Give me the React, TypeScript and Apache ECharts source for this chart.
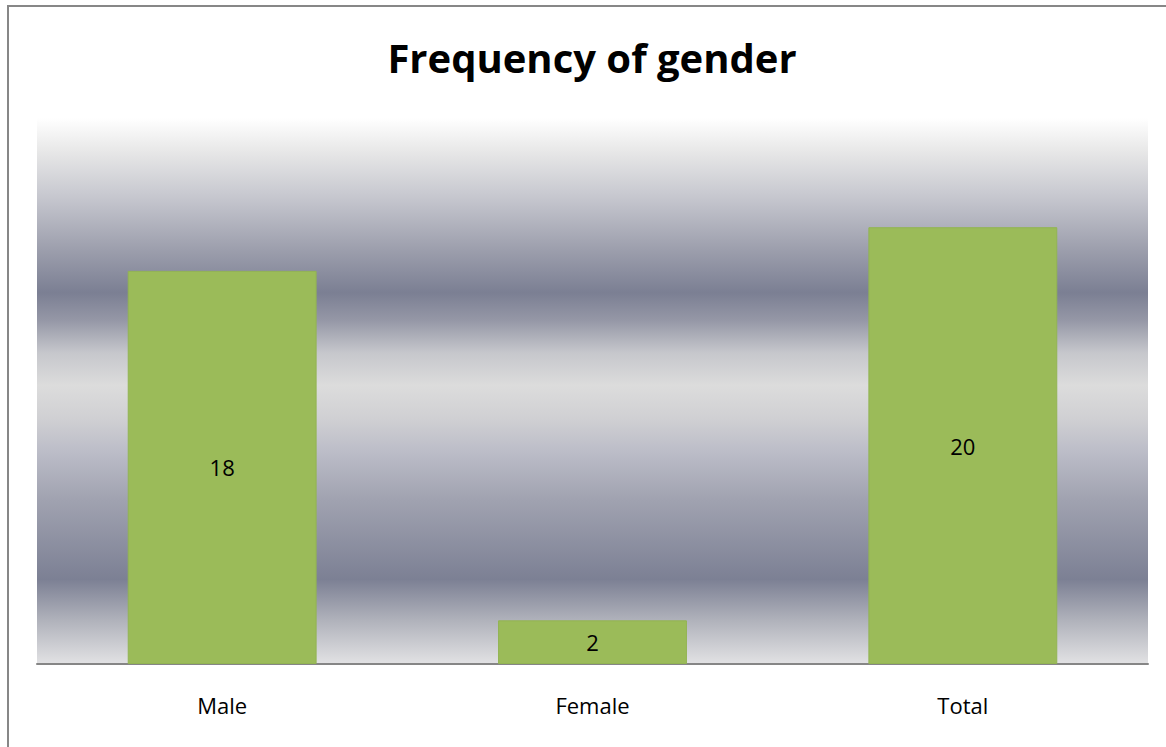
import React, { useEffect, useRef } from "react";
import * as echarts from "echarts";

const categories = ["Male", "Female", "Total"];
const frequencies = [18, 2, 20];
const titleText = "Frequency of gender";

export default function App() {
  const ref = useRef<HTMLDivElement>(null);
  useEffect(() => {
    if (!ref.current) return;
    const chart = echarts.init(ref.current, null, { renderer: "svg" });
    const bg = new echarts.graphic.LinearGradient(0, 0, 0, 1, [
      { offset: 0, color: "#ffffff" },
      { offset: 0.06, color: "#e8e8e8" },
      { offset: 0.15, color: "#c4c5cd" },
      { offset: 0.24, color: "#9d9fad" },
      { offset: 0.32, color: "#7b7f93" },
      { offset: 0.37, color: "#9597a6" },
      { offset: 0.43, color: "#c6c7cc" },
      { offset: 0.49, color: "#dcdcdc" },
      { offset: 0.55, color: "#d0d0d3" },
      { offset: 0.61, color: "#bcbdc8" },
      { offset: 0.70, color: "#a0a2b0" },
      { offset: 0.845, color: "#7c8094" },
      { offset: 0.92, color: "#b0b2bb" },
      { offset: 1, color: "#e2e2e4" },
    ]);
    chart.setOption({
      animation: false,
      backgroundColor: "#ffffff",
      graphic: [
        {
          type: "rect",
          shape: { x: 8, y: 6, width: 1300, height: 900 },
          style: { fill: "none", stroke: "#878787", lineWidth: 2 },
          silent: true,
        },
        {
          type: "text",
          x: 592,
          y: 57,
          style: {
            text: titleText,
            align: "center",
            verticalAlign: "middle",
            fontFamily: "Open Sans",
            fontWeight: "bold",
            fontSize: 40,
            fill: "#000000",
          },
          silent: true,
        },
      ],
      grid: {
        left: 37,
        right: 18,
        top: 118,
        bottom: 83,
        show: true,
        backgroundColor: bg,
        borderWidth: 0,
      },
      xAxis: {
        type: "category",
        data: categories,
        axisLine: { show: true, lineStyle: { color: "#868686", width: 2 } },
        axisTick: { show: false },
        axisLabel: {
          fontFamily: "Open Sans",
          fontSize: 22,
          color: "#000000",
          margin: 30,
        },
      },
      yAxis: {
        type: "value",
        min: 0,
        max: 25,
        show: false,
        splitLine: { show: false },
      },
      series: [
        {
          type: "bar",
          data: frequencies,
          barWidth: "51%",
          itemStyle: { color: "#9bbb59", borderColor: "#92b452", borderWidth: 1 },
          label: {
            show: true,
            position: "inside",
            fontFamily: "Open Sans",
            fontSize: 22,
            color: "#000000",
          },
        },
      ],
    });
    return () => chart.dispose();
  }, []);
  return (
    <div
      ref={ref}
      style={{ position: "fixed", left: 0, top: 0, width: 1166, height: 747 }}
    />
  );
}
